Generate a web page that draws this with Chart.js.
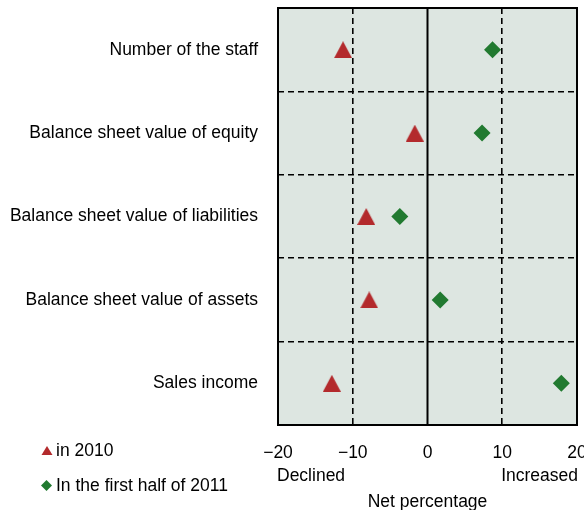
<!DOCTYPE html>
<html>
<head>
<meta charset="utf-8">
<script src="https://cdn.jsdelivr.net/npm/chart.js@4/dist/chart.umd.min.js"></script>
<style>
  html, body { margin: 0; padding: 0; background: #ffffff; }
  #wrap { width: 584px; height: 510px; position: relative; }
</style>
</head>
<body>
<div id="wrap"><canvas id="c" width="584" height="510"></canvas></div>
<script>
const categories = [
  "Number of the staff",
  "Balance sheet value of equity",
  "Balance sheet value of liabilities",
  "Balance sheet value of assets",
  "Sales income"
];
const values2010 = [-11.3, -1.7, -8.2, -7.8, -12.8];
const valuesH1_2011 = [8.7, 7.3, -3.7, 1.7, 17.9];
const seriesLabels = ["in 2010", "In the first half of 2011"];
const xTicks = [-20, -10, 0, 10, 20];
const axisTitle = "Net percentage";
const leftNote = "Declined";
const rightNote = "Increased";

const RED = "#b32a2c";
const GREEN = "#217a30";
const BG = "#dde6e1";
const FONT = '"Liberation Sans", Arial, sans-serif';
const FS = 17.5;

function triCanvas(w, h, color) {
  const c = document.createElement('canvas');
  c.width = w; c.height = h;
  const x = c.getContext('2d');
  x.fillStyle = color;
  x.beginPath();
  x.moveTo(w / 2, 0);
  x.lineTo(w, h);
  x.lineTo(0, h);
  x.closePath();
  x.fill();
  return c;
}
const triMarker = triCanvas(18, 17, RED);

const toPoints = vals => vals.map((v, i) => ({ x: v, y: categories[i] }));

const framePlugin = {
  id: 'frame',
  beforeDraw(chart) {
    const { ctx, chartArea: a } = chart;
    ctx.save();
    ctx.fillStyle = BG;
    ctx.fillRect(a.left, a.top, a.right - a.left, a.bottom - a.top);
    ctx.restore();
  },
  beforeDatasetsDraw(chart) {
    const { ctx, chartArea: a, scales } = chart;
    ctx.save();
    ctx.strokeStyle = '#000';
    ctx.lineWidth = 2;
    const x0 = scales.x.getPixelForValue(0);
    ctx.beginPath();
    ctx.moveTo(x0, a.top);
    ctx.lineTo(x0, a.bottom);
    ctx.stroke();
    ctx.strokeRect(a.left, a.top, a.right - a.left, a.bottom - a.top);
    ctx.restore();
  },
  afterDraw(chart) {
    const { ctx, chartArea: a } = chart;
    ctx.save();
    ctx.fillStyle = '#000';
    ctx.font = FS + 'px ' + FONT;
    ctx.textBaseline = 'middle';
    ctx.textAlign = 'left';
    ctx.fillText(leftNote, a.left - 1, 476);
    ctx.textAlign = 'right';
    ctx.fillText(rightNote, a.right + 1, 476);
    ctx.textAlign = 'center';
    ctx.fillText(axisTitle, (a.left + a.right) / 2, 502);

    // legend
    ctx.textAlign = 'left';
    const ds = chart.data.datasets;
    ctx.fillStyle = ds[0].backgroundColor;
    ctx.beginPath();
    ctx.moveTo(47, 446);
    ctx.lineTo(52.5, 455);
    ctx.lineTo(41.5, 455);
    ctx.closePath();
    ctx.fill();
    ctx.fillStyle = ds[1].backgroundColor;
    ctx.beginPath();
    ctx.moveTo(46.5, 480);
    ctx.lineTo(52, 485.5);
    ctx.lineTo(46.5, 491);
    ctx.lineTo(41, 485.5);
    ctx.closePath();
    ctx.fill();
    ctx.fillStyle = '#000';
    ctx.fillText(ds[0].label, 56, 451);
    ctx.fillText(ds[1].label, 56, 486);
    ctx.restore();
  }
};

new Chart(document.getElementById('c'), {
  type: 'scatter',
  data: {
    datasets: [
      {
        label: seriesLabels[0],
        data: toPoints(values2010),
        pointStyle: triMarker,
        backgroundColor: RED,
        borderColor: RED,
        pointRadius: 9
      },
      {
        label: seriesLabels[1],
        data: toPoints(valuesH1_2011),
        pointStyle: 'rectRot',
        backgroundColor: GREEN,
        borderColor: GREEN,
        borderWidth: 0,
        pointRadius: 8.5
      }
    ]
  },
  options: {
    responsive: false,
    animation: false,
    layout: { autoPadding: false, padding: { top: 8, right: 7, left: 0, bottom: 0 } },
    plugins: {
      legend: { display: false },
      tooltip: { enabled: false }
    },
    scales: {
      x: {
        type: 'linear',
        min: -20,
        max: 20,
        afterBuildTicks(scale) { scale.ticks = xTicks.map(v => ({ value: v })); },
        afterFit(scale) {
          scale.height = 85;
          scale.paddingLeft = 0; scale.paddingRight = 0;
          scale.paddingTop = 0; scale.paddingBottom = 0;
        },
        ticks: {
          padding: 18,
          color: '#000',
          font: { family: FONT, size: FS },
          callback: v => (v < 0 ? '\u2212' + Math.abs(v) : String(v))
        },
        grid: {
          drawTicks: false,
          color: ctx => (ctx.tick && (ctx.tick.value === 10 || ctx.tick.value === -10)) ? '#000' : 'rgba(0,0,0,0)',
          lineWidth: 1.6
        },
        border: { display: false, dash: [6, 4] }
      },
      y: {
        type: 'category',
        labels: categories,
        offset: true,
        afterFit(scale) {
          scale.width = 278;
          scale.paddingLeft = 0; scale.paddingRight = 0;
          scale.paddingTop = 0; scale.paddingBottom = 0;
        },
        ticks: {
          padding: 20,
          color: '#000',
          font: { family: FONT, size: FS }
        },
        grid: {
          offset: true,
          drawTicks: false,
          color: '#000',
          lineWidth: 1.6
        },
        border: { display: false, dash: [6, 4] }
      }
    }
  },
  plugins: [framePlugin]
});
</script>
</body>
</html>
